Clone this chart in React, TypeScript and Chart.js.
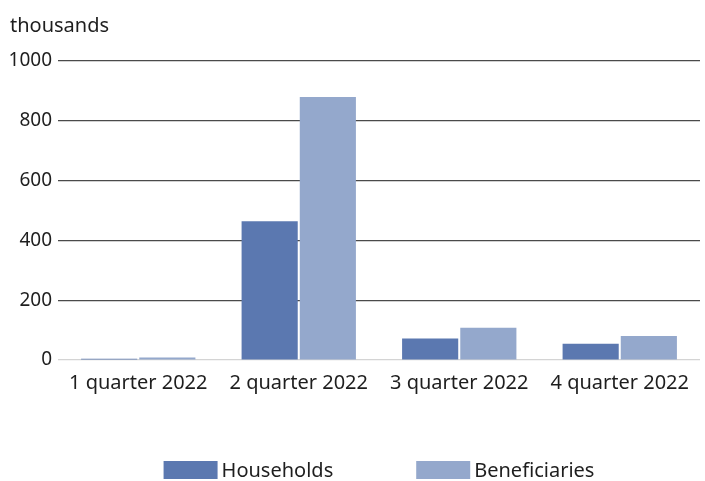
import React, { useEffect, useRef } from "react";
import { Chart, registerables } from "chart.js";

Chart.register(...registerables);

const categories = ["1 quarter 2022", "2 quarter 2022", "3 quarter 2022", "4 quarter 2022"];
const households = [4, 464, 72, 54];
const beneficiaries = [8, 880, 108, 80];
const yTicks = [0, 200, 400, 600, 800, 1000];

const FONT = "'Noto Sans', sans-serif";
const TEXT = "#1e1e1e";

const bottomLegend = {
  id: "bottomLegend",
  afterDraw(chart: any) {
    const { ctx, chartArea } = chart;
    const boxW = 54;
    const boxH = 18;
    const gapText = 4;
    const gapItem = 83;
    ctx.save();
    ctx.font = `20px ${FONT}`;
    const items = chart.data.datasets.map((d: any) => ({
      text: d.label,
      color: d.backgroundColor,
      w: boxW + gapText + ctx.measureText(d.label).width,
    }));
    const total = items.reduce((s: number, it: any) => s + it.w, 0) + gapItem * (items.length - 1);
    let x = (chartArea.left + chartArea.right) / 2 - total / 2;
    const cy = chart.height - 11;
    ctx.textBaseline = "middle";
    ctx.textAlign = "left";
    items.forEach((it: any) => {
      ctx.fillStyle = it.color;
      ctx.fillRect(x, cy - boxH / 2, boxW, boxH);
      ctx.fillStyle = TEXT;
      ctx.fillText(it.text, x + boxW + gapText, cy + 1);
      x += it.w + gapItem;
    });
    ctx.restore();
  },
};

export default function App() {
  const ref = useRef<HTMLCanvasElement | null>(null);

  useEffect(() => {
    document.body.style.margin = "0";
    if (!ref.current) return;
    const chart = new Chart(ref.current, {
      type: "bar",
      data: {
        labels: categories,
        datasets: [
          {
            label: "Households",
            data: households,
            backgroundColor: "#5b78b0",
            categoryPercentage: 0.725,
            barPercentage: 0.965,
          },
          {
            label: "Beneficiaries",
            data: beneficiaries,
            backgroundColor: "#94a8cc",
            categoryPercentage: 0.725,
            barPercentage: 0.965,
          },
        ],
      },
      options: {
        animation: false,
        responsive: false,
        devicePixelRatio: 1,
        layout: { padding: { left: 10, right: 5, top: 0, bottom: 75 } },
        plugins: {
          legend: { display: false },
          tooltip: { enabled: false },
          title: {
            display: true,
            text: "thousands",
            align: "start",
            color: TEXT,
            font: { family: FONT, size: 20, weight: "normal", lineHeight: 1.2 },
            padding: { top: 14, bottom: 23 },
          },
        },
        scales: {
          x: {
            grid: { display: false, drawTicks: false },
            border: { display: false },
            ticks: { color: TEXT, font: { family: FONT, size: 20 }, padding: 11 },
          },
          y: {
            min: 0,
            max: 1000,
            afterBuildTicks: (axis: any) => {
              axis.ticks = yTicks.map((v) => ({ value: v }));
            },
            afterFit: (axis: any) => {
              axis.width = 48;
            },
            grid: {
              drawTicks: false,
              color: (c: any) => (c.tick && c.tick.value === 0 ? "#d4d4d4" : "#4a4a4a"),
              lineWidth: 1.2,
            },
            border: { display: false },
            ticks: {
              color: TEXT,
              font: { family: FONT, size: 19 },
              padding: 6,
              callback: (v: any) => String(v),
            },
          },
        },
      },
      plugins: [bottomLegend],
    });
    return () => chart.destroy();
  }, []);

  return <canvas ref={ref} width={705} height={481} style={{ display: "block" }} />;
}
